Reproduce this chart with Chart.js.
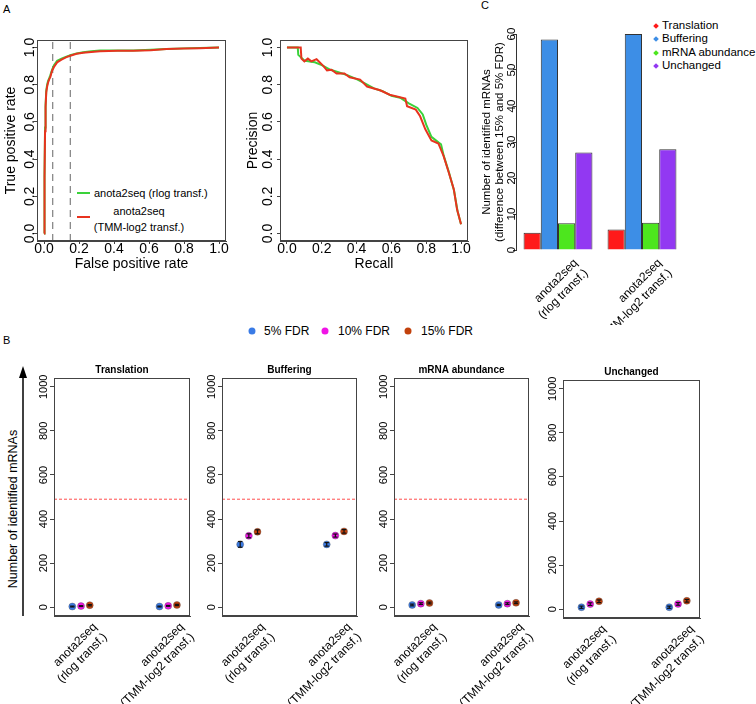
<!DOCTYPE html>
<html lang="en">
<head>
<meta charset="UTF-8">
<title>anota2seq: rlog vs TMM-log2</title>
<script src="https://cdn.jsdelivr.net/npm/chart.js"></script>
<style>
  body { margin: 0; background: #fff; font-family: 'Liberation Sans', Arial, sans-serif; }
  #page { position: relative; width: 756px; height: 704px; overflow: hidden; background: #fff; }
  canvas { position: absolute; }
  .t { position: absolute; white-space: nowrap; color: #000; line-height: 1; }
  .c { transform: translate(-50%, -50%); }
  .lv { transform: translateY(-50%); }
  .rot { transform: translate(-50%, -50%) rotate(-90deg); }
  .sw { position: absolute; height: 2px; }
  .dot { position: absolute; width: 7px; height: 7px; border-radius: 50%; transform: translate(-50%, -50%); }
  .dia { position: absolute; width: 4px; height: 4px; transform: translate(-50%, -50%) rotate(45deg); }
</style>
</head>
<body>
<div id="page">
  <div class="t" style="left:3px;top:4px;font-size:11px;">A</div>
  <div class="t" style="left:3px;top:335px;font-size:11px;">B</div>
  <div class="t" style="left:481px;top:0px;font-size:11px;">C</div>

  <!-- ROC legend -->
  <div class="sw" style="left:77px;top:192px;width:13px;background:#3ad23a;"></div>
  <div class="t lv" style="left:94px;top:193px;font-size:11px;">anota2seq (rlog transf.)</div>
  <div class="sw" style="left:77px;top:216px;width:13px;background:#e8331f;"></div>
  <div class="t c" style="left:139px;top:219px;font-size:11px;line-height:16px;text-align:center;">anota2seq<br>(TMM-log2 transf.)</div>

  <!-- C legend -->
  <div class="dia" style="left:656px;top:26px;background:#ff1a1a;"></div>
  <div class="t lv" style="left:662px;top:26px;font-size:11.5px;">Translation</div>
  <div class="dia" style="left:656px;top:39px;background:#3d8ee6;"></div>
  <div class="t lv" style="left:662px;top:39px;font-size:11.5px;">Buffering</div>
  <div class="dia" style="left:656px;top:53px;background:#4de61e;"></div>
  <div class="t lv" style="left:662px;top:53px;font-size:11.5px;">mRNA abundance</div>
  <div class="dia" style="left:656px;top:66px;background:#9238f2;"></div>
  <div class="t lv" style="left:662px;top:66px;font-size:11.5px;">Unchanged</div>

  <!-- B legend -->
  <div class="dot" style="left:252px;top:331px;background:#3a7be6;"></div>
  <div class="t lv" style="left:264px;top:331px;font-size:12px;">5% FDR</div>
  <div class="dot" style="left:325px;top:331px;background:#f014e6;"></div>
  <div class="t lv" style="left:338px;top:331px;font-size:12px;">10% FDR</div>
  <div class="dot" style="left:408px;top:331px;background:#c2410c;"></div>
  <div class="t lv" style="left:421px;top:331px;font-size:12px;">15% FDR</div>

  <!-- B y axis arrow -->
  <svg style="position:absolute;left:0;top:0;" width="40" height="704">
    <line x1="23" y1="616" x2="23" y2="376" stroke="#000" stroke-width="1.5"/>
    <polygon points="23,366 19,378 27,378" fill="#000"/>
  </svg>
  <div class="t rot" style="left:13px;top:509px;font-size:12.5px;">Number of identified mRNAs</div>
</div>

<script>
// ---- A: ROC and precision-recall curves ----
const rocFpr     = [0, 0.003, 0.006, 0.009, 0.013, 0.018, 0.023, 0.03, 0.036, 0.046, 0.057, 0.075, 0.1, 0.128, 0.155, 0.186, 0.224, 0.27, 0.32, 0.42, 0.51, 0.61, 0.7, 0.8, 0.89, 1.0];
const rocTprRlog = [0, 0.31, 0.57, 0.69, 0.77, 0.8, 0.82, 0.835, 0.85, 0.88, 0.905, 0.928, 0.94, 0.951, 0.96, 0.968, 0.974, 0.979, 0.983, 0.983, 0.984, 0.988, 0.992, 0.995, 0.997, 1.0];
const rocTprTmm  = [0, 0.3, 0.55, 0.68, 0.76, 0.79, 0.81, 0.83, 0.84, 0.875, 0.895, 0.92, 0.934, 0.948, 0.957, 0.966, 0.972, 0.975, 0.979, 0.982, 0.982, 0.985, 0.991, 0.994, 0.996, 1.0];
const fdrCutoffs = [0.05, 0.15];

const prRecallRlog = [0, 0.062, 0.065, 0.1, 0.13, 0.16, 0.2, 0.25, 0.3, 0.35, 0.4, 0.45, 0.5, 0.55, 0.6, 0.65, 0.7, 0.75, 0.78, 0.8, 0.83, 0.87, 0.885, 0.9, 0.93, 0.96, 0.98, 1.0];
const prPrecRlog   = [1, 1, 0.96, 0.93, 0.925, 0.92, 0.905, 0.88, 0.865, 0.85, 0.83, 0.805, 0.78, 0.765, 0.74, 0.73, 0.7, 0.675, 0.64, 0.585, 0.52, 0.49, 0.48, 0.42, 0.33, 0.23, 0.12, 0.05];
const prRecallTmm  = [0, 0.079, 0.083, 0.1, 0.12, 0.14, 0.17, 0.21, 0.23, 0.256, 0.285, 0.33, 0.36, 0.42, 0.46, 0.535, 0.59, 0.68, 0.69, 0.74, 0.765, 0.795, 0.83, 0.87, 0.9, 0.93, 0.958, 0.977, 1.0];
const prPrecTmm    = [1, 1, 0.94, 0.925, 0.94, 0.925, 0.937, 0.9, 0.877, 0.88, 0.86, 0.86, 0.84, 0.827, 0.79, 0.77, 0.746, 0.725, 0.684, 0.666, 0.63, 0.56, 0.5, 0.484, 0.416, 0.327, 0.24, 0.13, 0.05];
const unitTicks = [0, 0.2, 0.4, 0.6, 0.8, 1.0];

// ---- shared ----
const methods = [['anota2seq', '(rlog transf.)'], ['anota2seq', '(TMM-log2 transf.)']];

// ---- C: difference between 15% and 5% FDR ----
const categories = ['Translation', 'Buffering', 'mRNA abundance', 'Unchanged'];
const diffRlog = [4.8, 58.5, 7.4, 27.1];
const diffTmm  = [5.7, 60, 7.6, 28.0];
const diffTicks = [0, 10, 20, 30, 40, 50, 60];

// ---- B: identified mRNAs per FDR (rows: rlog, TMM-log2; cols: 5%, 10%, 15%) ----
const fdrLabels = ['5% FDR', '10% FDR', '15% FDR'];
const translationMean = [[3, 5, 9], [3, 6, 10]];
const translationSd   = [[2, 2, 3], [2, 2, 3]];
const bufferingMean   = [[285, 324, 342], [285, 325, 344]];
const bufferingSd     = [[13, 9, 9], [8, 7, 8]];
const abundanceMean   = [[10, 16, 19], [10, 16, 20]];
const abundanceSd     = [[4, 4, 4], [3, 4, 4]];
const unchangedMean   = [[9, 23, 36], [9, 24, 38]];
const unchangedSd     = [[5, 6, 6], [5, 6, 6]];
const bgThreshold = 490;
const countTicks = [0, 200, 400, 600, 800, 1000];

const catColors = ['#ff1a1a', '#3d8ee6', '#4de61e', '#9238f2'];
const fdrColors = ['#3a7be6', '#f014e6', '#c2410c'];

Chart.defaults.font.family = "'Liberation Sans', Arial, sans-serif";
Chart.defaults.color = '#000';
Chart.defaults.animation = false;
Chart.defaults.plugins.legend.display = false;
Chart.defaults.plugins.tooltip.enabled = false;

// box around the plotting region, like R's box()
Chart.register({
  id: 'frame',
  afterDraw(chart, args, opts) {
    if (!opts.display) return;
    const {ctx, chartArea: a} = chart;
    ctx.save();
    ctx.strokeStyle = '#444';
    ctx.lineWidth = 1;
    ctx.strokeRect(Math.round(a.left) + 0.5, Math.round(a.top) + 0.5,
                   Math.round(a.right - a.left) - 1, Math.round(a.bottom - a.top) - 1);
    ctx.restore();
  }
});

const page = document.getElementById('page');
function makeCanvas(box, yW, xH, top, right) {
  const c = document.createElement('canvas');
  const w = box.r - box.l + yW + right;
  const h = box.b - box.t + top + xH;
  c.width = w; c.height = h;
  c.style.width = w + 'px'; c.style.height = h + 'px';
  c.style.left = (box.l - yW) + 'px';
  c.style.top = (box.t - top) + 'px';
  page.appendChild(c);
  return c;
}
const setTicks = vals => s => { s.ticks = vals.map(v => ({value: v})); };
const rot = deg => s => { s.labelRotation = deg; };

// ---------- A: curve panels ----------
function curveChart(box, yW, xTitle, yTitle, yTitlePad, yTickPad, series) {
  const canvas = makeCanvas(box, yW, 34, 10, 12);
  const datasets = series.map(s => ({
    data: s.x.map((x, i) => ({x, y: s.y[i]})),
    borderColor: s.color, pointRadius: 0, borderDash: s.dash || [],
    borderWidth: s.width || 2
  }));
  new Chart(canvas, {
    type: 'line',
    data: {datasets},
    options: {
      responsive: false, events: [],
      layout: {padding: {left: 0, top: 10, right: 12, bottom: 0}},
      plugins: {frame: {display: true}},
      scales: {
        x: {
          type: 'linear', min: -0.04, max: 1.04,
          afterBuildTicks: setTicks(unitTicks),
          afterFit: s => { s.height = 34; },
          grid: {drawOnChartArea: false, tickLength: 3, color: '#444'},
          border: {color: '#444'},
          ticks: {autoSkip: false, padding: -3, font: {size: 14}, callback: v => v.toFixed(1)},
          title: {display: true, text: xTitle, font: {size: 14}, padding: {top: 0, bottom: 2}}
        },
        y: {
          type: 'linear', min: -0.04, max: 1.04,
          afterBuildTicks: setTicks(unitTicks),
          afterFit: s => { s.width = yW; },
          grid: {drawOnChartArea: false, tickLength: 3, color: '#444'},
          border: {color: '#444'},
          ticks: {autoSkip: false, minRotation: 90, maxRotation: 90, crossAlign: 'center',
                  padding: yTickPad, font: {size: 14}, callback: v => v.toFixed(1)},
          title: {display: true, text: yTitle, font: {size: 14}, padding: {top: yTitlePad, bottom: 0}}
        }
      }
    }
  });
}

// first dataset is painted last, so the TMM-log2 (red) curve sits on top
const cutoffSeries = fdrCutoffs.map(f => ({x: [f, f], y: [-0.04, 1.04], color: '#666', dash: [7, 5], width: 1}));
curveChart({l: 37, t: 40, r: 226, b: 241}, 37, 'False positive rate', 'True positive rate', 2.6, -5.7, [
  {x: rocFpr, y: rocTprTmm, color: '#e8331f'},
  {x: rocFpr, y: rocTprRlog, color: '#3ad23a'},
  ...cutoffSeries
]);
curveChart({l: 280, t: 40, r: 468, b: 241}, 40, 'Recall', 'Precision', 4.6, -0.7, [
  {x: prRecallTmm, y: prPrecTmm, color: '#e8331f'},
  {x: prRecallRlog, y: prPrecRlog, color: '#3ad23a'}
]);

// ---------- C: bar chart ----------
{
  const box = {l: 516, t: 34, r: 684, b: 250};
  const canvas = makeCanvas(box, 46, 75, 10, 10);
  new Chart(canvas, {
    type: 'bar',
    data: {
      labels: methods,
      datasets: categories.map((c, k) => ({
        label: c,
        data: [diffRlog[k], diffTmm[k]],
        backgroundColor: catColors[k],
        borderColor: '#333', borderWidth: 1,
        categoryPercentage: 0.82, barPercentage: 1.0
      }))
    },
    options: {
      responsive: false, events: [],
      layout: {padding: {left: 0, top: 10, right: 10, bottom: 0}},
      scales: {
        x: {
          afterFit: s => { s.height = 75; },
          afterCalculateLabelRotation: rot(45),
          grid: {display: false, drawTicks: false},
          border: {display: false},
          ticks: {autoSkip: false, minRotation: 45, maxRotation: 45, labelOffset: 18, padding: 6, font: {size: 12}}
        },
        y: {
          min: 0, max: 60,
          afterBuildTicks: setTicks(diffTicks),
          afterFit: s => { s.width = 46; },
          grid: {drawOnChartArea: false, tickLength: 3, color: '#333'},
          border: {color: '#333'},
          ticks: {autoSkip: false, minRotation: 90, maxRotation: 90, crossAlign: 'center',
                  padding: -5.4, font: {size: 11.5}},
          title: {display: true, text: ['Number of identified mRNAs', '(difference between 15% and 5% FDR)'],
                  font: {size: 11.5, lineHeight: 1.15}, padding: {top: 10.4, bottom: 0}}
        }
      }
    }
  });
}

// ---------- B: identified mRNAs per category ----------
const X_MIN = 0.69, X_MAX = 2.25, DODGE = 0.1;
function countChart(box, title, mean, sd, threshold) {
  const canvas = makeCanvas(box, 30, 90, 24, 6);
  const xOf = (i, j) => i + 1 + DODGE * (j - 1);
  const datasets = [];
  const bars = [];
  methods.forEach((m, i) => fdrLabels.forEach((f, j) => {
    bars.push({x: xOf(i, j), y: mean[i][j] - sd[i][j]}, {x: xOf(i, j), y: mean[i][j] + sd[i][j]}, {x: xOf(i, j), y: null});
  }));
  datasets.push({
    data: bars, order: 0, borderColor: '#111', borderWidth: 1.2, spanGaps: false,
    pointStyle: 'line', pointRadius: 2.2, pointBorderColor: '#111', pointBorderWidth: 1.2
  });
  fdrLabels.forEach((f, j) => datasets.push({
    label: f, order: 1, showLine: false,
    data: methods.map((m, i) => ({x: xOf(i, j), y: mean[i][j]})),
    pointRadius: 3.5, pointBackgroundColor: fdrColors[j],
    pointBorderColor: 'rgba(70,70,70,0.6)', pointBorderWidth: 0.6
  }));
  if (threshold != null) datasets.push({
    order: 2, data: [{x: X_MIN, y: threshold}, {x: X_MAX, y: threshold}],
    borderColor: '#ff4d4d', borderWidth: 1, borderDash: [3, 2], pointRadius: 0
  });
  new Chart(canvas, {
    type: 'line',
    data: {datasets},
    options: {
      responsive: false, events: [],
      layout: {padding: {left: 0, top: 10, right: 6, bottom: 0}},
      plugins: {
        frame: {display: true},
        title: {display: true, text: title, fullSize: false, font: {size: 10, weight: 'bold', lineHeight: 1.2},
                padding: {top: 0, bottom: 2}}
      },
      scales: {
        x: {
          type: 'linear', min: X_MIN, max: X_MAX,
          afterBuildTicks: setTicks([1, 2]),
          afterFit: s => { s.height = 90; },
          afterCalculateLabelRotation: rot(45),
          grid: {display: false, drawTicks: false},
          border: {color: '#444'},
          ticks: {autoSkip: false, minRotation: 45, maxRotation: 45, labelOffset: 14, padding: 4,
                  font: {size: 12}, callback: v => methods[Math.round(v) - 1]}
        },
        y: {
          type: 'linear', min: -40, max: 1040,
          afterBuildTicks: setTicks(countTicks),
          afterFit: s => { s.width = 30; },
          grid: {drawOnChartArea: false, tickLength: 4, color: '#444'},
          border: {color: '#444'},
          ticks: {autoSkip: false, minRotation: 90, maxRotation: 90, crossAlign: 'center',
                  padding: -6.2, font: {size: 11}, callback: v => String(v)}
        }
      }
    }
  });
}

countChart({l: 54, t: 378, r: 190, b: 616}, 'Translation', translationMean, translationSd, bgThreshold);
countChart({l: 222, t: 378, r: 357, b: 616}, 'Buffering', bufferingMean, bufferingSd, bgThreshold);
countChart({l: 394, t: 378, r: 529, b: 616}, 'mRNA abundance', abundanceMean, abundanceSd, bgThreshold);
countChart({l: 563, t: 380, r: 700, b: 618}, 'Unchanged', unchangedMean, unchangedSd, null);
</script>
</body>
</html>
